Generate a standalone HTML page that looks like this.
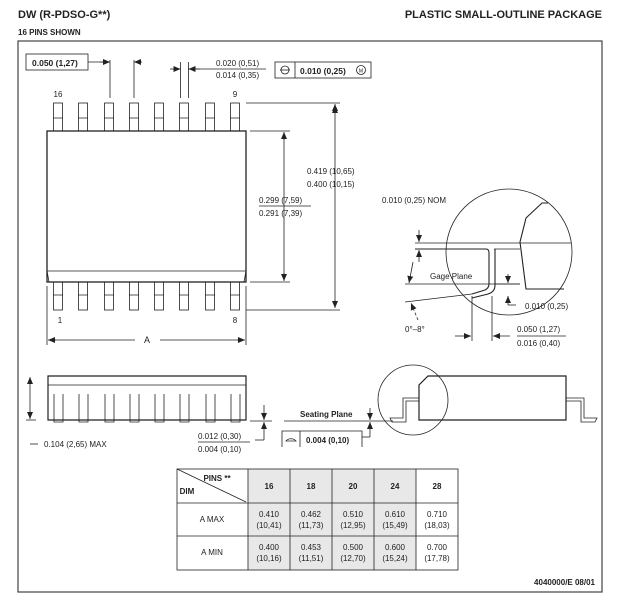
<!DOCTYPE html>
<html><head><meta charset="utf-8"><style>
body{margin:0;background:#fff}
svg text{font-family:"Liberation Sans",Arial,sans-serif;fill:#222}
.b{font-weight:bold}
</style></head><body>
<svg width="620" height="602" viewBox="0 0 620 602" xmlns="http://www.w3.org/2000/svg">
<defs>
<marker id="a" markerWidth="8" markerHeight="8" refX="7" refY="4" orient="auto" markerUnits="userSpaceOnUse"><path d="M0,1 L7,4 L0,7z" fill="#222"/></marker>
</defs>
<text x="18" y="18" font-size="11" class="b">DW (R-PDSO-G**)</text>
<text x="602" y="18" font-size="11" class="b" text-anchor="end">PLASTIC SMALL-OUTLINE PACKAGE</text>
<text x="18" y="35" font-size="8" class="b">16 PINS SHOWN</text>
<rect x="18" y="41" width="584" height="551" fill="none" stroke="#444" stroke-width="1.2"/>
<g stroke="#222" fill="none" stroke-width="0.8">
<!-- top view -->
<rect x="26" y="54" width="62" height="16"/>
<line x1="88" y1="62" x2="110" y2="62"/>
<line x1="110" y1="60" x2="110" y2="98"/><line x1="134" y1="60" x2="134" y2="98"/>
<line x1="100" y1="62" x2="110" y2="62" marker-end="url(#a)"/>
<line x1="142" y1="62" x2="134" y2="62" marker-end="url(#a)"/>
<line x1="180.5" y1="62" x2="180.5" y2="98"/><line x1="188.5" y1="62" x2="188.5" y2="98"/>
<line x1="170" y1="69" x2="180.5" y2="69" marker-end="url(#a)"/>
<line x1="200" y1="69" x2="188.5" y2="69" marker-end="url(#a)"/>
<line x1="188" y1="69" x2="266" y2="69"/>
<rect x="275" y="62" width="96" height="16"/><line x1="295" y1="62" x2="295" y2="78"/>
<circle cx="285" cy="70" r="4"/><line x1="280" y1="70" x2="290" y2="70"/>
<circle cx="361" cy="70" r="4.5"/>
</g>
<text x="216" y="66" font-size="8">0.020 (0,51)</text>
<text x="216" y="78" font-size="8">0.014 (0,35)</text>
<text x="32" y="66" font-size="8.5" class="b">0.050 (1,27)</text>
<text x="300" y="74" font-size="8.5" class="b">0.010 (0,25)</text>
<text x="361" y="72.5" font-size="5" text-anchor="middle">M</text>
<g stroke="#222" fill="#fff" stroke-width="0.8">
<g id="pt">
<rect x="53.5" y="103" width="9" height="28"/><rect x="78.5" y="103" width="9" height="28"/><rect x="104.5" y="103" width="9" height="28"/><rect x="129.5" y="103" width="9" height="28"/><rect x="154.5" y="103" width="9" height="28"/><rect x="179.5" y="103" width="9" height="28"/><rect x="205.5" y="103" width="9" height="28"/><rect x="230.5" y="103" width="9" height="28"/>
</g>
<use href="#pt" y="179"/>
<rect x="47" y="131" width="199" height="151" stroke-width="1.3"/>
<path d="M47,271 L246,271 L244,282 L49,282z" fill="none"/>
</g>
<g stroke="#222" stroke-width="0.8">
<path d="M53,118h10M78,118h10M104,118h10M129,118h10M154,118h10M179,118h10M205,118h10M230,118h10M53,295h10M78,295h10M104,295h10M129,295h10M154,295h10M179,295h10M205,295h10M230,295h10"/>
<line x1="246" y1="103" x2="340" y2="103"/><line x1="246" y1="310" x2="340" y2="310"/>
<line x1="335" y1="108" x2="335" y2="106" marker-end="url(#a)"/>
<line x1="335" y1="112" x2="335" y2="305"/>
<line x1="335" y1="300" x2="335" y2="308" marker-end="url(#a)"/>
<line x1="335" y1="110" x2="335" y2="104" marker-end="url(#a)"/>
<line x1="250" y1="131" x2="290" y2="131"/><line x1="250" y1="282" x2="290" y2="282"/>
<line x1="284" y1="137" x2="284" y2="276"/>
<line x1="284" y1="140" x2="284" y2="132" marker-end="url(#a)"/>
<line x1="284" y1="273" x2="284" y2="281" marker-end="url(#a)"/>
<line x1="259" y1="206" x2="311" y2="206"/>
<line x1="47" y1="286" x2="47" y2="345"/><line x1="246" y1="286" x2="246" y2="345"/>
<line x1="55" y1="340" x2="135" y2="340"/><line x1="160" y1="340" x2="238" y2="340"/>
<line x1="56" y1="340" x2="48" y2="340" marker-end="url(#a)"/>
<line x1="237" y1="340" x2="245" y2="340" marker-end="url(#a)"/>
</g>
<text x="58" y="97" font-size="8" text-anchor="middle">16</text>
<text x="235" y="97" font-size="8" text-anchor="middle">9</text>
<text x="60" y="323" font-size="8" text-anchor="middle">1</text>
<text x="235" y="323" font-size="8" text-anchor="middle">8</text>
<text x="147" y="343" font-size="9" text-anchor="middle">A</text>
<text x="307" y="174" font-size="8">0.419 (10,65)</text>
<text x="307" y="187" font-size="8">0.400 (10,15)</text>
<text x="259" y="203" font-size="8">0.299 (7,59)</text>
<text x="259" y="216" font-size="8">0.291 (7,39)</text>
<!-- detail -->
<g stroke="#222" fill="none" stroke-width="0.8">
<circle cx="509" cy="252" r="63"/>
<path d="M548,203 L542,203 L526,218 L520,242 L526,289 L564,289" stroke-width="1.1"/>
<line x1="415" y1="243" x2="571" y2="243"/>
<path d="M415,249 L486,249 Q489,249 489,253 L489,284 Q489,288 485,290 L472,294" stroke-width="1.1"/>
<path d="M520,249 L494,249"/>
<path d="M495,249 L495,285 Q495,292 488,294 L472,298" stroke-width="1.1"/>
<line x1="405" y1="284" x2="520" y2="284"/>
<line x1="405" y1="302" x2="472" y2="294"/>
<line x1="495" y1="284" x2="520" y2="284"/>
<line x1="419" y1="230" x2="419" y2="242" marker-end="url(#a)"/>
<line x1="419" y1="262" x2="419" y2="250" marker-end="url(#a)"/>
<line x1="413" y1="262" x2="409" y2="283" marker-end="url(#a)"/>
<line x1="508" y1="274" x2="508" y2="283" marker-end="url(#a)"/>
<line x1="508" y1="305" x2="508" y2="296" marker-end="url(#a)"/>
<line x1="508" y1="305" x2="516" y2="305"/>
<line x1="418" y1="320" x2="411" y2="303" marker-end="url(#a)" stroke-dasharray="3,2"/>
<line x1="472" y1="296" x2="472" y2="341"/><line x1="492" y1="296" x2="492" y2="341"/>
<line x1="455" y1="336" x2="471" y2="336" marker-end="url(#a)"/>
<line x1="510" y1="336" x2="493" y2="336" marker-end="url(#a)"/>
<line x1="517" y1="336" x2="566" y2="336"/>
</g>
<text x="382" y="203" font-size="8">0.010 (0,25) NOM</text>
<text x="430" y="279" font-size="8">Gage Plane</text>
<text x="525" y="309" font-size="8">0.010 (0,25)</text>
<text x="405" y="332" font-size="8">0°–8°</text>
<text x="517" y="332" font-size="8">0.050 (1,27)</text>
<text x="517" y="346" font-size="8">0.016 (0,40)</text>
<!-- side view -->
<g stroke="#222" fill="none" stroke-width="0.8">
<path d="M48,376 L246,376 L246,420 L48,420z" stroke-width="1.2"/>
<line x1="48" y1="385" x2="246" y2="385"/>
<path d="M54,394v28h9v-28M79,394v28h9v-28M105,394v28h9v-28M130,394v28h9v-28M155,394v28h9v-28M180,394v28h9v-28M206,394v28h9v-28M231,394v28h9v-28"/>
<line x1="30" y1="382" x2="30" y2="414"/>
<line x1="30" y1="384" x2="30" y2="377" marker-end="url(#a)"/>
<line x1="30" y1="412" x2="30" y2="419" marker-end="url(#a)"/>
<line x1="26" y1="420" x2="36" y2="420"/>
<line x1="30" y1="444" x2="38" y2="444"/>
<line x1="250" y1="421" x2="272" y2="421"/>
<line x1="264" y1="405" x2="264" y2="420" marker-end="url(#a)"/>
<line x1="264" y1="437" x2="264" y2="422" marker-end="url(#a)"/>
<line x1="255" y1="440" x2="264" y2="440"/><line x1="264" y1="437" x2="264" y2="440"/>
<line x1="198" y1="442" x2="250" y2="442"/>
<line x1="284" y1="421" x2="393" y2="421"/>
<path d="M282,447 L282,431 L362,431 L362,447"/><line x1="300" y1="431" x2="300" y2="447"/>
<path d="M286,441 A6,5 0 0 1 296,441 Z"/>
<line x1="370" y1="408" x2="370" y2="420" marker-end="url(#a)"/>
<line x1="370" y1="437" x2="370" y2="422" marker-end="url(#a)"/>
<line x1="362" y1="437" x2="370" y2="437"/>
<circle cx="413" cy="400" r="35"/>
<path d="M428,376 L566,376 L566,420 L419,420 L419,385z" stroke-width="1.2"/>
<path d="M419,398 L403,398 L403,418 L390,418 L392,422 L406,422 L406,401 L419,401"/>
<path d="M566,398 L584,398 L584,418 L597,418 L595,422 L581,422 L581,401 L566,401"/>
</g>
<text x="44" y="447" font-size="8">0.104 (2,65) MAX</text>
<text x="198" y="439" font-size="8">0.012 (0,30)</text>
<text x="198" y="452" font-size="8">0.004 (0,10)</text>
<text x="300" y="417" font-size="8" class="b">Seating Plane</text>
<text x="306" y="443" font-size="8" class="b">0.004 (0,10)</text>
<!-- table -->
<rect x="248" y="469" width="168" height="101" fill="#e8e8e8"/>
<g stroke="#222" fill="none" stroke-width="0.8">
<rect x="177" y="469" width="281" height="101"/>
<line x1="177" y1="503" x2="458" y2="503"/><line x1="177" y1="536" x2="458" y2="536"/>
<line x1="248" y1="469" x2="248" y2="570"/><line x1="290" y1="469" x2="290" y2="570"/>
<line x1="332" y1="469" x2="332" y2="570"/><line x1="374" y1="469" x2="374" y2="570"/>
<line x1="416" y1="469" x2="416" y2="570"/>
<line x1="177" y1="469" x2="246" y2="502"/>
</g>
<g font-size="8" text-anchor="middle">
<text x="217" y="481" class="b">PINS **</text>
<text x="187" y="494" class="b">DIM</text>
<text x="269" y="489" class="b">16</text><text x="311" y="489" class="b">18</text><text x="353" y="489" class="b">20</text><text x="395" y="489" class="b">24</text><text x="437" y="489" class="b">28</text>
<text x="212" y="522">A MAX</text><text x="212" y="555">A MIN</text>
<text x="269" y="517">0.410</text><text x="269" y="528">(10,41)</text>
<text x="311" y="517">0.462</text><text x="311" y="528">(11,73)</text>
<text x="353" y="517">0.510</text><text x="353" y="528">(12,95)</text>
<text x="395" y="517">0.610</text><text x="395" y="528">(15,49)</text>
<text x="437" y="517">0.710</text><text x="437" y="528">(18,03)</text>
<text x="269" y="550">0.400</text><text x="269" y="561">(10,16)</text>
<text x="311" y="550">0.453</text><text x="311" y="561">(11,51)</text>
<text x="353" y="550">0.500</text><text x="353" y="561">(12,70)</text>
<text x="395" y="550">0.600</text><text x="395" y="561">(15,24)</text>
<text x="437" y="550">0.700</text><text x="437" y="561">(17,78)</text>
</g>
<text x="595" y="585" font-size="8" class="b" text-anchor="end">4040000/E 08/01</text>
</svg>
</body></html>
